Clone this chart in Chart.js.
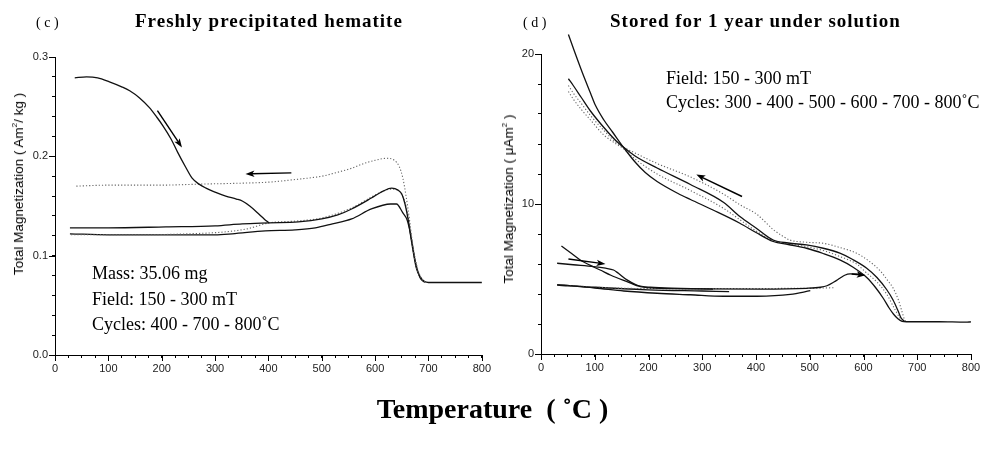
<!DOCTYPE html>
<html>
<head>
<meta charset="utf-8">
<script src="https://cdn.jsdelivr.net/npm/chart.js@4.4.1/dist/chart.umd.min.js"></script>
<style>
  html,body{margin:0;padding:0;background:#fff;}
  #wrap{position:relative;width:985px;height:451px;background:#fff;overflow:hidden;}
  .cv{position:absolute;top:0;}
  .t{position:absolute;white-space:nowrap;line-height:1;color:#000;}
  .serif{font-family:"Liberation Serif","Times New Roman",serif;}
  .sans{font-family:"Liberation Sans",Arial,sans-serif;}
  .rot{transform:translate(-50%,-50%) rotate(-90deg);}
</style>
</head>
<body>
<div id="wrap">
  <canvas id="c1" class="cv" width="495" height="451" style="left:0"></canvas>
  <canvas id="c2" class="cv" width="495" height="451" style="left:490px"></canvas>

  <div class="t serif" style="left:36px;top:16px;font-size:14px;">( c )</div>
  <div class="t serif" style="left:135px;top:11px;font-size:19px;font-weight:bold;letter-spacing:1px;">Freshly precipitated hematite</div>
  <div class="t serif" style="left:523px;top:16px;font-size:14px;">( d )</div>
  <div class="t serif" style="left:610px;top:11px;font-size:19px;font-weight:bold;letter-spacing:1px;">Stored for 1 year under solution</div>

  <div class="t serif" style="left:92px;top:264px;font-size:18px;">Mass: 35.06 mg</div>
  <div class="t serif" style="left:92px;top:290px;font-size:18px;">Field: 150 - 300 mT</div>
  <div class="t serif" style="left:92px;top:315px;font-size:18px;">Cycles: 400 - 700 - 800˚C</div>

  <div class="t serif" style="left:666px;top:69px;font-size:18px;">Field: 150 - 300 mT</div>
  <div class="t serif" style="left:666px;top:93px;font-size:18px;">Cycles: 300 - 400 - 500 - 600 - 700 - 800˚C</div>

  <div class="t sans rot" style="left:18px;top:184px;font-size:13.5px;">Total Magnetization ( Am<sup style="font-size:8px">2</sup>/ kg )</div>
  <div class="t sans rot" style="left:508px;top:199px;font-size:13.5px;">Total Magnetization ( μAm<sup style="font-size:8px">2</sup> )</div>

  <div class="t serif" style="left:0;width:985px;text-align:center;top:395px;font-size:28px;font-weight:bold;">Temperature&nbsp; ( ˚C )</div>
</div>

<script>
// ---------------- DATA ----------------
// tick labels
const xMajorTicks = [0, 100, 200, 300, 400, 500, 600, 700, 800];
const leftYMajorTicks = [0, 0.1, 0.2, 0.3];
const rightYMajorTicks = [0, 10, 20];

// Panel (c): Freshly precipitated hematite  [temperature °C, magnetization Am²/kg]
const cHeatTo400 = [[37,0.279],[59,0.280],[80,0.279],[102,0.275],[125,0.270],[140,0.266],[158,0.259],[177,0.249],[190,0.240],[202,0.231],[218,0.217],[230,0.204],[245,0.189],[257,0.178],[270,0.172],[283,0.168],[300,0.164],[320,0.160],[340,0.157],[351,0.155],[365,0.150],[382,0.142],[392,0.137],[401,0.133]];
const cCoolFrom700 = [[40,0.170],[100,0.171],[200,0.171],[270,0.172],[350,0.173],[400,0.174],[456,0.177],[500,0.180],[530,0.184],[556,0.188],[580,0.193],[600,0.196],[621,0.198],[636,0.196],[645,0.190],[652,0.178],[658,0.160],[664,0.138],[671,0.108],[678,0.088],[686,0.078],[694,0.073]];
const cHeatTo700 = [[28,0.128],[100,0.128],[208,0.129],[300,0.130],[351,0.132],[401,0.133],[456,0.134],[500,0.137],[530,0.141],[556,0.147],[593,0.158],[615,0.165],[631,0.168],[643,0.166],[650,0.162],[656,0.152],[662,0.136],[668,0.115],[673,0.099],[677,0.088],[684,0.079],[690,0.075],[700,0.073],[750,0.073],[800,0.073]];
const cHeatTo800 = [[30,0.121],[150,0.121],[250,0.122],[320,0.124],[360,0.127],[401,0.133],[456,0.135],[500,0.138],[556,0.148],[593,0.159],[620,0.166],[635,0.167],[648,0.163],[658,0.150],[665,0.130],[672,0.106],[680,0.086],[690,0.075],[700,0.073]];
const cCoolFrom400 = [[28,0.122],[100,0.121],[208,0.121],[300,0.121],[332,0.122],[394,0.125],[450,0.126],[488,0.128],[520,0.132],[556,0.137],[593,0.147],[629,0.152],[640,0.152],[652,0.143],[660,0.136],[664,0.128],[668,0.117],[675,0.095],[684,0.078],[693,0.073]];

// Panel (d): Stored for 1 year under solution  [temperature °C, magnetization µAm²]
const dCoolA = [[51,21.3],[62,20.2],[77,18.75],[92,17.4],[101,16.6],[117,15.6],[133,14.8],[153,13.8],[175,12.8],[194,12.1],[216,11.5],[255,10.7],[278,10.3],[320,9.6],[370,8.72],[400,8.1],[432,7.5],[460,7.3],[494,7.05],[525,6.7],[556,6.27],[580,5.8],[606,5.1],[622,4.45],[637,3.7],[648,3.05],[656,2.65],[664,2.35],[672,2.18],[680,2.15],[740,2.15],[790,2.12],[800,2.14]];
const dCoolB = [[51,18.35],[60,17.9],[75,17.1],[92,16.2],[117,15.1],[140,14.2],[153,13.8],[175,13.2],[216,12.4],[278,11.3],[340,10.1],[370,9.16],[400,8.4],[432,7.6],[460,7.4],[494,7.27],[525,7.05],[556,6.72],[580,6.3],[606,5.72],[625,5.1],[643,4.3],[655,3.6],[665,2.82],[670,2.4],[676,2.2]];
const dCoolC = [[51,17.9],[60,17.4],[75,16.7],[92,15.9],[117,14.9],[140,14.1],[153,13.8],[175,13.4],[216,12.7],[278,11.8],[340,10.65],[370,9.95],[402,9.3],[432,8.3],[450,7.85],[463,7.6],[494,7.45],[525,7.38],[556,7.1],[587,6.72],[610,6.2],[631,5.55],[645,4.9],[655,4.4],[665,3.6],[671,2.9],[677,2.25],[682,2.15]];
const dCoolD = [[51,17.5],[60,17.0],[75,16.3],[92,15.6],[117,14.6],[140,14.0],[153,13.7],[175,13.0],[216,12.0],[278,10.9],[340,9.7],[370,8.95],[400,8.2],[432,7.55],[460,7.35],[494,7.15],[525,6.9],[556,6.5],[587,6.0],[606,5.4],[625,4.8],[643,4.0],[658,3.0],[668,2.4],[676,2.2]];
const dHeatTo600 = [[38,7.2],[55,6.75],[73,6.27],[98,5.8],[110,5.6],[130,5.25],[160,4.83],[185,4.49],[222,4.38],[300,4.34],[408,4.33],[494,4.38],[520,4.45],[532,4.55],[545,4.8],[556,5.05],[565,5.25],[575,5.34],[590,5.32],[600,5.27]];
const dHeatTo300 = [[30,6.05],[60,5.95],[98,5.83],[120,5.72],[135,5.6],[144,5.38],[160,4.94],[178,4.6],[203,4.45],[260,4.38],[320,4.33]];
const dCoolFrom500 = [[30,4.6],[100,4.4],[154,4.2],[216,4.05],[278,3.95],[340,3.85],[402,3.85],[464,3.97],[501,4.22]];
const dHeatTo500 = [[30,4.62],[80,4.5],[140,4.4],[200,4.36],[300,4.36],[400,4.37],[500,4.38],[545,4.42]];
const dCoolFrom300 = [[30,4.62],[100,4.45],[200,4.28],[300,4.2],[350,4.16]];

// arrows [fromT, fromM, toT, toM]
const cArrows = [[192,0.246,238,0.209],[443,0.1833,357,0.1823]];
const dArrows = [[374,10.5,289,11.96],[51,6.33,120,6.0],[578,5.33,604,5.25]];

// ---------------- DRAWING ----------------
const toXY = arr => arr.map(p => ({x:p[0], y:p[1]}));
const solid = (d) => ({data:toXY(d), borderColor:'#111', borderWidth:1.3, pointRadius:0, fill:false, cubicInterpolationMode:'monotone', clip:false});
const dotted = (d) => ({data:toXY(d), borderColor:'#666', borderWidth:1.1, borderDash:[1.2,2], pointRadius:0, fill:false, cubicInterpolationMode:'monotone', clip:false});

const arrowPlugin = {
  id:'arrows',
  afterDatasetsDraw(chart, args, opts){
    const {ctx} = chart; const xs = chart.scales.x, ys = chart.scales.y;
    (opts.list||[]).forEach(a=>{
      const x1=xs.getPixelForValue(a[0]), y1=ys.getPixelForValue(a[1]);
      const x2=xs.getPixelForValue(a[2]), y2=ys.getPixelForValue(a[3]);
      const ang=Math.atan2(y2-y1,x2-x1), hl=9, hw=3.2;
      const c=Math.cos(ang), s=Math.sin(ang);
      ctx.save();
      ctx.strokeStyle='#000'; ctx.fillStyle='#000'; ctx.lineWidth=1.4;
      ctx.beginPath(); ctx.moveTo(x1,y1); ctx.lineTo(x2-hl*0.7*c, y2-hl*0.7*s); ctx.stroke();
      ctx.beginPath(); ctx.moveTo(x2,y2);
      ctx.lineTo(x2-hl*c+hw*s, y2-hl*s-hw*c);
      ctx.lineTo(x2-hl*0.75*c, y2-hl*0.75*s);
      ctx.lineTo(x2-hl*c-hw*s, y2-hl*s+hw*c);
      ctx.closePath(); ctx.fill();
      ctx.restore();
    });
  }
};

const majorTickPlugin = {
  id:'majorTicks',
  afterDraw(chart, args, opts){
    const {ctx} = chart; const xs = chart.scales.x, ys = chart.scales.y;
    ctx.save(); ctx.strokeStyle='#000'; ctx.lineWidth=1;
    ctx.beginPath();
    (opts.x||[]).forEach(v=>{ const px=Math.round(xs.getPixelForValue(v))+0.5; ctx.moveTo(px, xs.top); ctx.lineTo(px, xs.top+6); });
    (opts.y||[]).forEach(v=>{ const py=Math.round(ys.getPixelForValue(v))+0.5; ctx.moveTo(ys.right, py); ctx.lineTo(ys.right-6, py); });
    ctx.stroke(); ctx.restore();
  }
};

function makeChart(id, datasets, cfg){
  return new Chart(document.getElementById(id), {
    type:'line',
    data:{datasets},
    plugins:[arrowPlugin, majorTickPlugin],
    options:{
      responsive:false, animation:false, devicePixelRatio:1,
      layout:{padding:{left:0, right:cfg.padRight, top:cfg.top, bottom:0}},
      plugins:{legend:{display:false}, tooltip:{enabled:false},
        arrows:{list:cfg.arrows}, majorTicks:{x:xMajorTicks, y:cfg.yMajor}},
      scales:{
        x:{type:'linear', min:0, max:800,
          afterFit:s=>{s.height=cfg.xHeight;},
          border:{display:true, color:'#000', width:1},
          grid:{drawOnChartArea:false, drawTicks:true, tickLength:3, color:'#000'},
          ticks:{stepSize:25, autoSkip:false, maxRotation:0, padding:4, color:'#222',
            font:{family:'"Liberation Sans", Arial, sans-serif', size:11},
            callback:v=> xMajorTicks.includes(v) ? String(v) : ''}
        },
        y:{type:'linear', min:0, max:cfg.yMax,
          afterFit:s=>{s.width=cfg.yWidth;},
          border:{display:true, color:'#000', width:1},
          grid:{drawOnChartArea:false, drawTicks:true, tickLength:3, color:'#000'},
          ticks:{stepSize:cfg.yStep, autoSkip:false, padding:4, color:'#222',
            font:{family:'"Liberation Sans", Arial, sans-serif', size:11},
            callback:v=>{ const m = cfg.yMajor.find(t=>Math.abs(t-v)<1e-6); return m!==undefined ? cfg.fmt(m) : ''; }}
        }
      }
    }
  });
}

makeChart('c1', [
  solid(cHeatTo400), dotted(cCoolFrom700), solid(cHeatTo700), dotted(cHeatTo800), solid(cCoolFrom400)
], {padRight:11, top:57, xHeight:96, yWidth:55, yMax:0.3, yStep:0.02, yMajor:leftYMajorTicks, fmt:v=>v.toFixed(1), arrows:cArrows});

makeChart('c2', [
  solid(dCoolA), solid(dCoolB), dotted(dCoolC), dotted(dCoolD),
  solid(dHeatTo600), solid(dHeatTo300), solid(dCoolFrom500), dotted(dHeatTo500), solid(dCoolFrom300)
], {padRight:14, top:54, xHeight:97, yWidth:51, yMax:20, yStep:2, yMajor:rightYMajorTicks, fmt:v=>String(v), arrows:dArrows});
</script>
</body>
</html>
